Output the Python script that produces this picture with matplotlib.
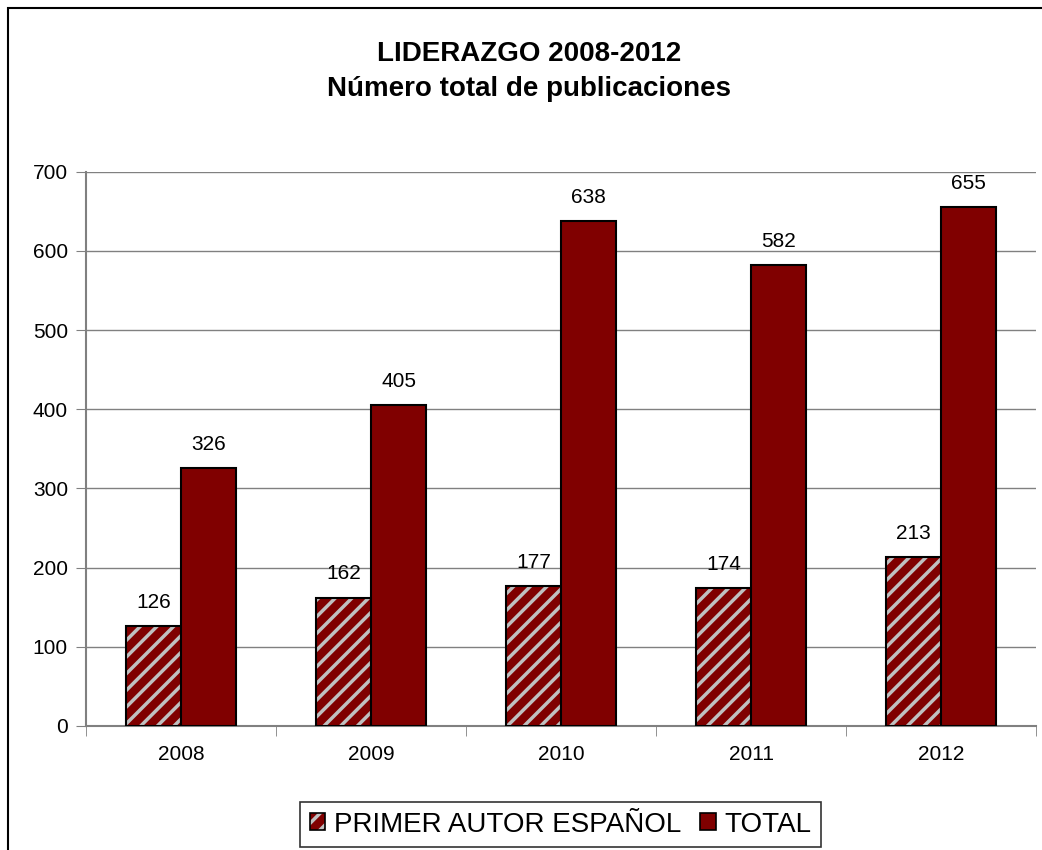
import matplotlib
matplotlib.use("Agg")
import matplotlib.pyplot as plt
from matplotlib.patches import Patch, Rectangle
from matplotlib.legend_handler import HandlerTuple
import numpy as np

plt.rcParams['font.family'] = ['Liberation Sans', 'DejaVu Sans']
plt.rcParams['hatch.linewidth'] = 2.5

years = ['2008', '2009', '2010', '2011', '2012']
primer_autor = [126, 162, 177, 174, 213]
total = [326, 405, 638, 582, 655]

maroon = '#800000'
stripe = '#c0c0c0'
grid_c = '#808080'

fig = plt.figure(figsize=(10.42, 8.5), dpi=100)
ax = fig.add_axes([0.0825, 0.146, 0.912, 0.652])

x = np.arange(len(years))
w = 0.29

# hatched bars: hatch drawn in gray, then a black outline on top
ax.bar(x - w / 2, primer_autor, w, color=maroon, edgecolor=stripe, hatch='//',
       linewidth=0, zorder=3)
ax.bar(x - w / 2, primer_autor, w, fill=False, edgecolor='black', linewidth=1.5, zorder=4)
ax.bar(x + w / 2, total, w, color=maroon, edgecolor='black', linewidth=1.5, zorder=4)

for xi, v in zip(x, primer_autor):
    ax.text(xi - w / 2, v + 18, str(v), ha='center', va='bottom', fontsize=15)
for xi, v in zip(x, total):
    ax.text(xi + w / 2, v + 18, str(v), ha='center', va='bottom', fontsize=15)

ax.set_xlim(-0.5, 4.5)
ax.set_ylim(0, 700)
ax.set_yticks(range(0, 701, 100))
ax.set_xticks(x)
ax.set_xticklabels(years)
ax.set_xticks(np.arange(-0.5, 5.0, 1.0), minor=True)
ax.tick_params(axis='x', which='major', length=0, labelsize=15, pad=14)
ax.tick_params(axis='x', which='minor', length=7, color=grid_c, direction='out')
ax.tick_params(axis='y', length=7, color=grid_c, direction='out', labelsize=15, pad=6)
ax.yaxis.grid(True, color=grid_c, linewidth=1)
ax.set_axisbelow(True)
for s in ['top', 'right']:
    ax.spines[s].set_visible(False)
for s in ['left', 'bottom']:
    ax.spines[s].set_color(grid_c)
    ax.spines[s].set_linewidth(1.5)

fig.text(0.508, 0.952, 'LIDERAZGO 2008-2012\nNúmero total de publicaciones',
         ha='center', va='top', fontsize=20, fontweight='bold', linespacing=1.45)

h1 = (Patch(facecolor=maroon, edgecolor=stripe, hatch='//', linewidth=0),
      Patch(fill=False, edgecolor='black', linewidth=1.2))
h2 = Patch(facecolor=maroon, edgecolor='black', linewidth=1.2)
leg = fig.legend([h1, h2], ['PRIMER AUTOR ESPAÑOL', 'TOTAL'],
                 handler_map={tuple: HandlerTuple(ndivide=1)},
                 loc='lower center', bbox_to_anchor=(0.538, 0.0), ncol=2,
                 fontsize=20, frameon=True, fancybox=False, edgecolor='black',
                 handlelength=0.55, handleheight=0.55, handletextpad=0.3,
                 columnspacing=0.7, borderpad=0.35, borderaxespad=0.1)
leg.get_frame().set_linewidth(1.2)

# figure frame (left and top edges visible)
fig.patches.append(Rectangle((8 / 1042, -0.01), 1.1, 1 - 8 / 850 + 0.01,
                             transform=fig.transFigure, fill=False,
                             edgecolor='black', linewidth=1.5))

fig.savefig('out.png', dpi=100)
